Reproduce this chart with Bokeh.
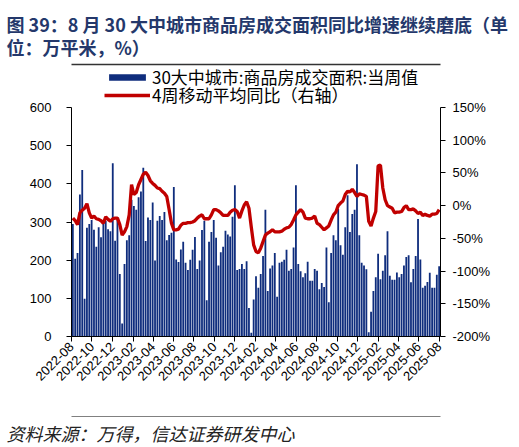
import pandas as pd
from math import pi
from bokeh.plotting import figure
from bokeh.models import (Range1d, LinearAxis, DatetimeAxis, FixedTicker, DatetimeTickFormatter,
                          Legend, LegendItem, Title)
from bokeh.embed import file_html
from bokeh.resources import INLINE

# ---------------- data ----------------
first_week = "2022-08-05"
weekly_area = [
    295, 204, 219, 372, 436, 99, 285, 295, 305, 280,
    235, 286, 260, 296, 303, 281, 276, 454, 251, 312,
    164, 34, 190, 252, 265, 358, 342, 332, 365, 380,
    442, 250, 312, 305, 351, 199, 303, 316, 305, 326,
    252, 266, 272, 392, 202, 195, 228, 248, 193, 174,
    201, 227, 261, 177, 199, 279, 303, 95, 248, 274,
    305, 259, 186, 221, 235, 277, 267, 262, 314, 396,
    174, 177,
    190, 177, 197, 75, 10, 97, 158, 128, 164, 211,
    332, 119, 178, 186, 219, 104, 193, 196, 201, 227,
    172, 177, 233, 396, 190, 171, 155, 166, 196, 146,
    146, 177, 172, 124, 140, 130, 233, 90, 219, 265,
    252, 334, 239, 214, 286, 370, 274, 321, 332, 451,
    265, 193, 186, 176, 11, 65, 119, 155, 217, 150,
    172, 213, 276, 159, 149, 149, 168, 155, 164, 186,
    208, 213, 142, 177, 211, 308, 202, 128, 133, 143,
    167, 128, 128, 162, 184,
]
yoy_4w_ma = [
    -19, -23, -29, -11, -7, -4, 3, -11, -19, -16,
    -20, -21, -23, -27, -17, -21, -24, -20, -19, -19,
    -29, -45, -40, -32, -14, 32, 17, 20, 32, 40,
    48, 51, 46, 38, 34, 31, 27, 26, 22, 19,
    14, -6, -27, -37, -37, -36, -30, -27, -27, -26,
    -26, -25, -23, -19, -16, -14, -20, -20, -20, -14,
    -6, -6, -8, -11, -15, -15, -15, -10, -7, -6,
    -9, -19, -8, 1, 6, -4, -33, -60, -70, -72,
    -65, -55, -45, -42, -40, -37, -40, -40, -40, -39,
    -36, -34, -33, -29, -22, -14, -10, -6, -10, -19,
    -20, -20, -19, -16, -27, -29, -33, -37, -34, -31,
    -22, -14, -10, 0, 4, 7, 17, 22, 21, 25,
    20, 14, 18, 17, 16, 14, -24, -31, -19, -9,
    61, 62, 27, 9, 0, -2, -4, -11, -10, -10,
    -9, -3, 0, -6, -6, -5, -8, -12, -10, -15,
    -13, -15, -16, -13, -13, -12, -6,
]
x_tick_labels = ["2022-08", "2022-10", "2022-12", "2023-02", "2023-04", "2023-06",
                 "2023-08", "2023-10", "2023-12", "2024-02", "2024-04", "2024-06",
                 "2024-08", "2024-10", "2024-12", "2025-02", "2025-04", "2025-06",
                 "2025-08"]
left_ticks = [0, 100, 200, 300, 400, 500, 600]
right_ticks = [-200, -150, -100, -50, 0, 50, 100, 150]
right_tick_labels = ["-200%", "-150%", "-100%", "-50%", "0%", "50%", "100%", "150%"]

series_bar = "30大中城市:商品房成交面积:当周值"
series_line = "4周移动平均同比（右轴）"
title_lines = ["图 39：8 月 30 大中城市商品房成交面积同比增速继续磨底（单",
               "位：万平米，%）"]
source_text = "资料来源：万得，信达证券研发中心"

# ---------------- layout constants ----------------
W, H = 519, 447
B_LEFT, B_RIGHT, B_TOP, B_BOTTOM = 71, 79, 64, 111
AXIS_H = 229                       # pixels spanned by 0..600 on the left axis
FRAME_H = H - B_TOP - B_BOTTOM      # 272: frame also holds the legend strip
LEFT_MAX, RIGHT_MIN, RIGHT_MAX = 600, -200, 150
y_top = LEFT_MAX * FRAME_H / AXIS_H
r_top = RIGHT_MIN + (RIGHT_MAX - RIGHT_MIN) * FRAME_H / AXIS_H
CJK = "Noto Sans CJK SC"
TICK_FONT = "Liberation Sans"

dates = pd.date_range(first_week, periods=len(weekly_area), freq="7D")
DAY = 86400000
tick_ms = [pd.Timestamp(t + "-01").value // 10**6 for t in x_tick_labels]
x0 = tick_ms[0]
x1 = x0 + 1100 * DAY

p = figure(width=W, height=H, output_backend="svg", toolbar_location=None,
           x_axis_type="datetime",
           x_range=Range1d(x0, x1),
           y_range=Range1d(0, y_top),
           min_border_left=B_LEFT, min_border_right=B_RIGHT,
           min_border_top=B_TOP, min_border_bottom=B_BOTTOM)
p.outline_line_color = None
p.xgrid.visible = False
p.ygrid.visible = False
p.background_fill_color = "white"
p.border_fill_color = "white"
p.extra_y_ranges = {"pct": Range1d(RIGHT_MIN, r_top)}

bars = p.vbar(x=dates, top=weekly_area, width=5.4 * DAY, bottom=0,
              fill_color="#0f2d7d", line_color=None)
line = p.line(x=dates, y=yoy_4w_ma, y_range_name="pct",
              line_color="#c00000", line_width=3.3)

xa = p.xaxis[0]
xa.ticker = FixedTicker(ticks=tick_ms)
xa.formatter = DatetimeTickFormatter(months="%Y-%m", days="%Y-%m", years="%Y-%m")
xa.major_label_orientation = pi / 4
xa.major_label_standoff = 3

ya = p.yaxis[0]
ya.ticker = FixedTicker(ticks=left_ticks)
ya.bounds = (0, LEFT_MAX)
ya.major_label_standoff = 15

ra = LinearAxis(y_range_name="pct", ticker=FixedTicker(ticks=right_ticks),
                major_label_overrides=dict(zip(right_ticks, right_tick_labels)),
                bounds=(RIGHT_MIN, RIGHT_MAX))
ra.major_label_standoff = 7
p.add_layout(ra, "right")

for ax in (xa, ya, ra):
    ax.minor_tick_line_color = None
    ax.major_tick_in = 0
    ax.major_tick_out = 5
    ax.major_label_text_font = TICK_FONT
    ax.major_label_text_font_size = "13px"
    ax.major_label_text_color = "black"
    ax.axis_line_color = "black"
    ax.major_tick_line_color = "black"

mid = x0 + 550 * DAY


def rule_axis(color, width, gap=1):
    """Horizontal rule (axis line only); with color None it is just a spacer of `gap` px."""
    return DatetimeAxis(ticker=FixedTicker(ticks=[mid]), major_label_overrides={mid: ""},
                        major_label_text_font_size="0px", major_label_standoff=0,
                        major_tick_in=0, major_tick_out=gap, major_tick_line_color=None,
                        minor_tick_line_color=None,
                        axis_line_color=color, axis_line_width=width)


def title(txt, size, style, color, standoff=0, line_height=1.0):
    return Title(text=txt, align="left", offset=6 - B_LEFT, standoff=standoff,
                 text_font=CJK, text_font_size=size, text_font_style=style,
                 text_color=color, text_line_height=line_height)


# above: from the frame outwards
p.add_layout(rule_axis("#333333", 1.5), "above")
p.add_layout(title("\n".join(title_lines), "18px", "bold", "#24386b",
                   standoff=7, line_height=0.87), "above")

# below: after the date axis
p.add_layout(rule_axis(None, 1, gap=29), "below")
p.add_layout(rule_axis("#808080", 1.2), "below")
p.add_layout(title(source_text, "18px", "italic", "#222222", standoff=0), "below")

# one legend per series so each row can be placed on its own
for label, rend, bottom in ((series_bar, bars, 247), (series_line, line, 229)):
    lg = Legend(items=[LegendItem(label=label, renderers=[rend])],
                location=(33, bottom), orientation="vertical",
                glyph_width=46, glyph_height=8, label_standoff=2,
                label_text_font=CJK, label_text_font_size="17px",
                label_text_color="black", label_height=18,
                padding=0, margin=0, spacing=0,
                border_line_color=None, background_fill_alpha=0)
    p.add_layout(lg)

open("out.html", "w").write(file_html(p, INLINE))
